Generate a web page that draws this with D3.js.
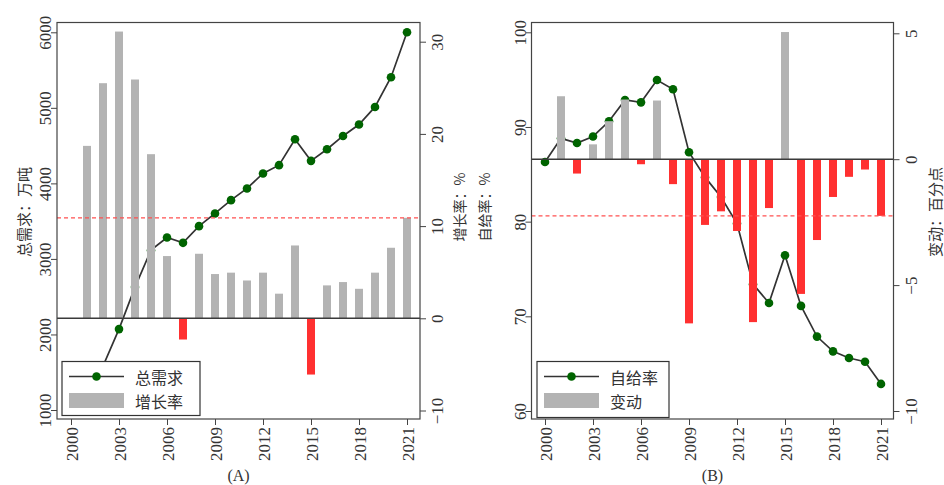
<!DOCTYPE html>
<html><head><meta charset="utf-8">
<script src="https://cdn.jsdelivr.net/npm/d3@7"></script>
<style>body{margin:0;background:#fff}</style>
</head><body><svg id="c" width="944" height="485"></svg>
<script>
// ---------- data ----------
const years = [2000,2001,2002,2003,2004,2005,2006,2007,2008,2009,2010,2011,2012,2013,2014,2015,2016,2017,2018,2019,2020,2021];
const xTicks = [2000,2003,2006,2009,2012,2015,2018,2021];

// Panel A: total demand (万吨) and growth rate (%)
const demand = [1060,1260,1580,2071,2627,3116,3284,3213,3434,3602,3778,3933,4131,4241,4585,4298,4452,4628,4779,5012,5405,6000];
const growth = [null,18.7,25.5,31.1,25.9,17.8,6.75,-2.3,7.0,4.8,4.95,4.1,4.95,2.67,7.9,-6.1,3.57,3.93,3.2,4.95,7.65,10.9];
const refGrowth = 10.9;
const aLeftTicks = [1000,2000,3000,4000,5000,6000];
const aRightTicks = [-10,0,10,20,30];

// Panel B: self-sufficiency rate (%) and change (percentage points)
const selfRate = [86.3,88.8,88.3,89.0,90.6,92.85,92.6,94.96,93.98,87.33,84.7,82.6,79.8,73.4,71.4,76.45,71.1,67.86,66.3,65.6,65.2,62.86];
const change = [null,2.5,-0.57,0.59,1.51,2.37,-0.2,2.33,-0.99,-6.52,-2.61,-2.07,-2.85,-6.47,-1.94,5.05,-5.35,-3.21,-1.5,-0.7,-0.41,-2.25];
const refChange = -2.25;
const bLeftTicks = [60,70,80,90,100];
const bRightTicks = [-10,-5,0,5];

const labelsA = {left:"总需求：万吨", right:"增长率：%", line:"总需求", bar:"增长率", cap:"(A)"};
const labelsB = {left:"自给率：%", right:"变动：百分点", line:"自给率", bar:"变动", cap:"(B)"};

// ---------- drawing ----------
const svg = d3.select('#c');
const serif = '"Liberation Serif","DejaVu Serif",serif';
const cjk = '"Noto Sans CJK SC","Noto Sans CJK JP",sans-serif';
const GRAY = '#b3b3b3', RED = '#ff3030', GREEN = '#006400', INK = '#333';

function minus(v){ return String(v).replace('-', '\u2212'); }

function panel(cfg, idx){
  const f = cfg.frame;
  const g = svg.append('g');
  const x = d3.scaleLinear().domain([2000,2021]).range(cfg.xr);
  const yL = d3.scaleLinear().domain(cfg.lDom).range(cfg.lRange);
  const yR = d3.scaleLinear().domain(cfg.rDom).range(cfg.rRange);

  const cid = 'clip'+idx;
  g.append('clipPath').attr('id', cid).append('rect')
    .attr('x', f.x0).attr('y', f.y0).attr('width', f.x1-f.x0).attr('height', f.y1-f.y0);
  const plot = g.append('g').attr('clip-path', `url(#${cid})`);

  // line + dots
  const pts = cfg.lineData.map((v,i)=>({yr:years[i], v}));
  plot.append('path').datum(pts)
    .attr('d', d3.line().x(d=>x(d.yr)).y(d=>yL(d.v)))
    .attr('fill','none').attr('stroke',INK).attr('stroke-width',1.7);
  plot.selectAll('circle.pt').data(pts).join('circle')
    .attr('cx', d=>x(d.yr)).attr('cy', d=>yL(d.v)).attr('r', 4.3).attr('fill', GREEN);

  // bars
  const bw = x(2000.5) - x(2000);
  const bars = cfg.barData.map((v,i)=>({yr:years[i], v})).filter(d=>d.v!==null);
  plot.selectAll('rect.bar').data(bars).join('rect')
    .attr('x', d=>x(d.yr)-bw/2).attr('width', bw)
    .attr('y', d=>yR(Math.max(0,d.v)))
    .attr('height', d=>Math.abs(yR(d.v)-yR(0)))
    .attr('fill', d=>d.v>=0?GRAY:RED);

  // zero line & reference dashed line
  plot.append('line').attr('x1',f.x0).attr('x2',f.x1).attr('y1',yR(0)).attr('y2',yR(0))
    .attr('stroke','#3a3a3a').attr('stroke-width',1.5);
  plot.append('line').attr('x1',f.x0).attr('x2',f.x1).attr('y1',yR(cfg.ref)).attr('y2',yR(cfg.ref))
    .attr('stroke','#ff5050').attr('stroke-width',1.2).attr('stroke-dasharray','4,3');

  // frame
  g.append('rect').attr('x',f.x0).attr('y',f.y0).attr('width',f.x1-f.x0).attr('height',f.y1-f.y0)
    .attr('fill','none').attr('stroke','#444').attr('stroke-width',1.2);

  // axes
  const styleAxis = a => { a.select('.domain').remove(); a.selectAll('line').attr('stroke','#444'); 
    a.selectAll('text').attr('font-family',serif).attr('font-size',17).attr('fill','#333'); };

  const aL = g.append('g').attr('transform',`translate(${f.x0},0)`)
    .call(d3.axisLeft(yL).tickValues(cfg.lTicks).tickSize(6).tickFormat(d=>minus(d)));
  styleAxis(aL);
  aL.selectAll('text').attr('x',null).attr('dy',null).attr('text-anchor','middle')
    .attr('transform','translate(-6,0) rotate(-90)');

  const aR = g.append('g').attr('transform',`translate(${f.x1},0)`)
    .call(d3.axisRight(yR).tickValues(cfg.rTicks).tickSize(6).tickFormat(d=>minus(d)));
  styleAxis(aR);
  aR.selectAll('text').attr('x',null).attr('dy',null).attr('text-anchor','middle')
    .attr('transform','translate(23,0) rotate(-90)');

  const aB = g.append('g').attr('transform',`translate(0,${f.y1})`)
    .call(d3.axisBottom(x).tickValues(xTicks).tickSize(6).tickFormat(d3.format('d')));
  styleAxis(aB);
  aB.selectAll('text').attr('y',null).attr('dy',null).attr('text-anchor','end')
    .attr('transform','translate(6,8) rotate(-90)');

  // axis titles
  const title = (t, cx, cy, fs) => g.append('text').text(t)
    .attr('transform',`translate(${cx},${cy}) rotate(-90)`)
    .attr('text-anchor','middle').attr('dominant-baseline','central')
    .attr('font-family',cjk).attr('font-size',fs).attr('fill','#333');
  title(cfg.labels.left, cfg.tl[0], cfg.tl[1], cfg.tl[2]);
  title(cfg.labels.right, cfg.tr[0], cfg.tr[1], cfg.tr[2]);

  // caption
  g.append('text').text(cfg.labels.cap).attr('x',(f.x0+f.x1)/2).attr('y',481)
    .attr('text-anchor','middle').attr('font-family',serif).attr('font-size',16).attr('fill','#333');

  // legend
  const L = cfg.legend;
  const lg = g.append('g');
  lg.append('rect').attr('x',L.x).attr('y',L.y).attr('width',L.w).attr('height',L.h)
    .attr('fill','#fff').attr('stroke','#333').attr('stroke-width',1.2);
  lg.append('line').attr('x1',L.x+7).attr('x2',L.x+62).attr('y1',L.y+15).attr('y2',L.y+15)
    .attr('stroke',INK).attr('stroke-width',1.7);
  lg.append('circle').attr('cx',L.x+34.5).attr('cy',L.y+15).attr('r',4.3).attr('fill',GREEN);
  lg.append('rect').attr('x',L.x+7).attr('y',L.y+31.5).attr('width',55).attr('height',15).attr('fill',GRAY);
  lg.append('text').text(cfg.labels.line).attr('x',L.x+73).attr('y',L.y+15).attr('dominant-baseline','central')
    .attr('font-family',cjk).attr('font-size',16).attr('fill','#333');
  lg.append('text').text(cfg.labels.bar).attr('x',L.x+73).attr('y',L.y+39).attr('dominant-baseline','central')
    .attr('font-family',cjk).attr('font-size',16).attr('fill','#333');
}

panel({
  frame:{x0:57, x1:420, y0:22.5, y1:419},
  xr:[71,407],
  lDom:[1000,6000], lRange:[410,32.3], lTicks:aLeftTicks,
  rDom:[-10,30], rRange:[410.5,41.7], rTicks:aRightTicks,
  lineData:demand, barData:growth, ref:refGrowth,
  labels:labelsA,
  tl:[23,212,15], tr:[459,207,14],
  legend:{x:62, y:361.5, w:138, h:54}
}, 0);

panel({
  frame:{x0:531.5, x1:893.5, y0:22.5, y1:419},
  xr:[545,881],
  lDom:[60,100], lRange:[411,32.3], lTicks:bLeftTicks,
  rDom:[-10,5], rRange:[411,33.3], rTicks:bRightTicks,
  lineData:selfRate, barData:change, ref:refChange,
  labels:labelsB,
  tl:[484,207,14], tr:[934,212,15],
  legend:{x:537, y:361.5, w:132, h:56}
}, 1);
</script>
</body></html>
